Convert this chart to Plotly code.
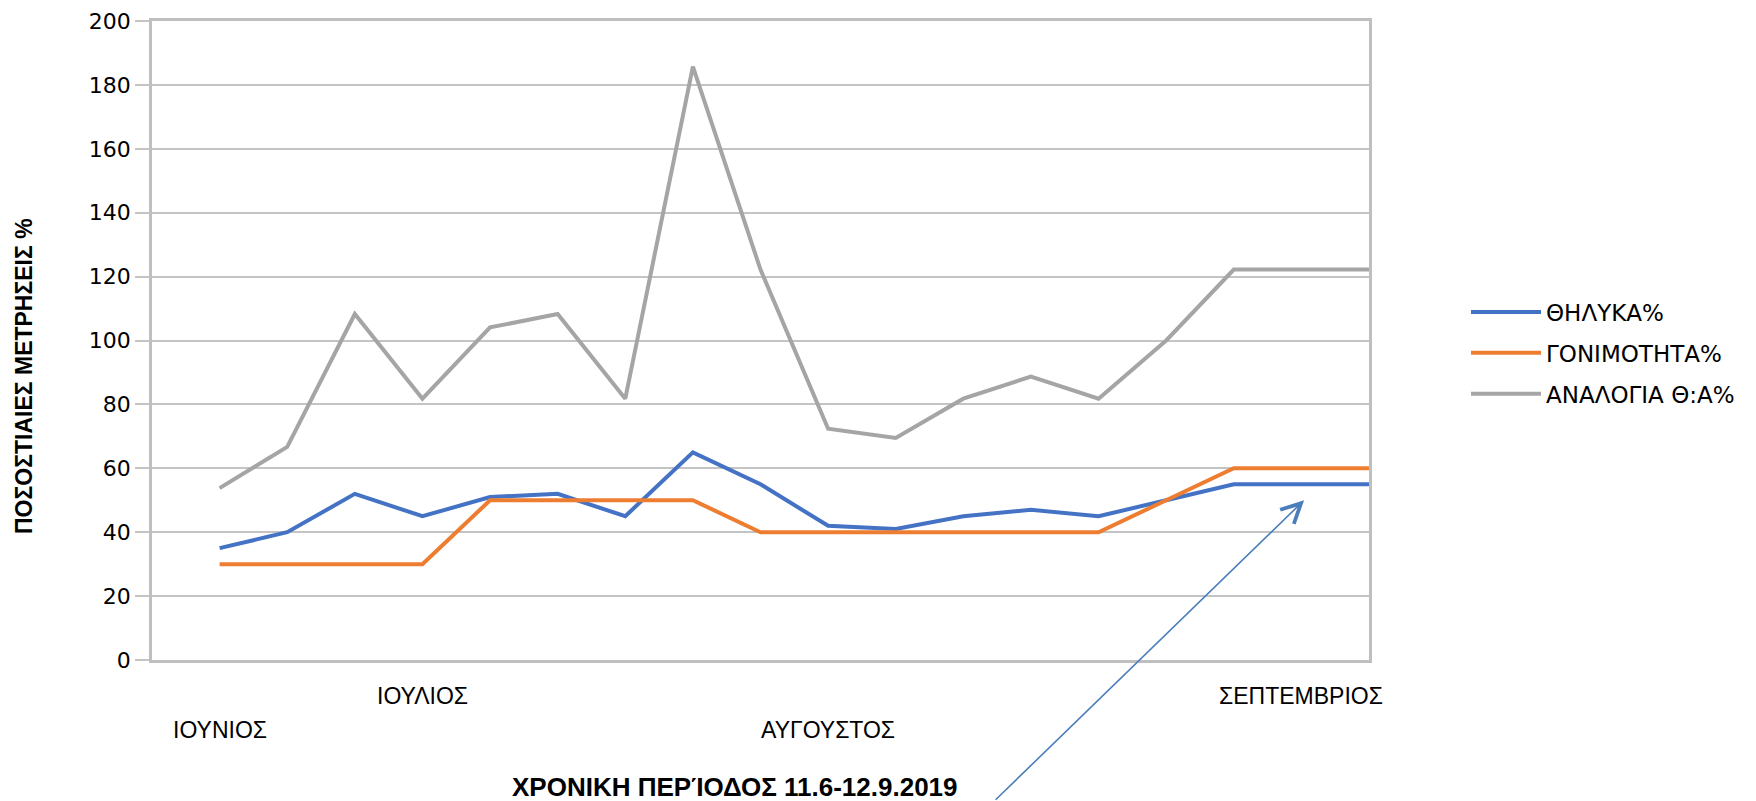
import plotly.graph_objects as go

# Category index positions (measurements 11.6 – 12.9.2019)
points = list(range(18))

thilyka = [35, 40, 52, 45, 51, 52, 45, 65, 55, 42, 41, 45, 47, 45, 50, 55, 55, 55]
gonimotita = [30, 30, 30, 30, 50, 50, 50, 50, 40, 40, 40, 40, 40, 40, 50, 60, 60, 60]
analogia = [53.8, 66.7, 108.3, 81.8, 104.1, 108.3, 81.8, 185.7, 122.2, 72.4, 69.5,
            81.8, 88.7, 81.8, 100, 122.2, 122.2, 122.2]

series_names = ["ΘΗΛΥΚΑ%", "ΓΟΝΙΜΟΤΗΤΑ%", "ΑΝΑΛΟΓΙΑ Θ:Α%"]
series_colors = ["#4472C4", "#ED7D31", "#A5A5A5"]

month_positions = [0, 3, 9, 16]
month_labels = ["ΙΟΥΝΙΟΣ", "ΙΟΥΛΙΟΣ", "ΑΥΓΟΥΣΤΟΣ", "ΣΕΠΤΕΜΒΡΙΟΣ"]
month_rows = [1, 0, 1, 0]  # 0 = upper row, 1 = lower row (staggered labels)

y_ticks = [0, 20, 40, 60, 80, 100, 120, 140, 160, 180, 200]

fig = go.Figure()
for name, vals, col in zip(series_names, [thilyka, gonimotita, analogia], series_colors):
    fig.add_trace(go.Scatter(
        x=points, y=vals, mode="lines", name=name, legendgroup=name,
        line=dict(color=col, width=4),
    ))

# page body has an 8px margin, so figure coordinates = reference coordinates - 8
W, H = 1756, 801
PL, PR, PT, PB = 144, 1361, 13, 652          # plot area in figure pixels
L, R, T, B = PL, W - PR, PT, H - PB
PW, PH = PR - PL, PB - PT


def px_x(x):
    return (x - PL) / PW


def px_y(y):
    return (PB - y) / PH


fig.update_layout(
    width=W, height=H,
    margin=dict(l=L, r=R, t=T, b=B, autoexpand=False),
    paper_bgcolor="white", plot_bgcolor="white",
    font=dict(family="DejaVu Sans", size=22, color="#000000"),
    showlegend=True,
    legend=dict(
        x=px_x(1458), xanchor="left", y=px_y(345), yanchor="middle",
        font=dict(family="DejaVu Sans", size=23, color="#000000"),
        itemwidth=70, tracegroupgap=8, bgcolor="rgba(0,0,0,0)",
    ),
    xaxis=dict(
        range=[-1, 17], showticklabels=False, automargin=False,
        showgrid=False, zeroline=False, ticks="",
        showline=True, linecolor="#BFBFBF", linewidth=2.5, mirror=True,
    ),
    yaxis=dict(
        range=[0, 200], tickmode="array", tickvals=y_ticks, automargin=False,
        tickfont=dict(family="DejaVu Sans", size=22, color="#000000"),
        ticklabeloverflow="allow",
        showgrid=True, gridcolor="#C4C4C4", gridwidth=1.5, zeroline=False,
        ticks="outside", ticklen=14, tickcolor="#C4C4C4", tickwidth=1.5,
        showline=True, linecolor="#BFBFBF", linewidth=2.5, mirror=True,
    ),
)

# Staggered month category labels placed on the x scale
row_y = [px_y(688), px_y(722)]
for pos, lab, row in zip(month_positions, month_labels, month_rows):
    fig.add_annotation(
        text=lab, x=pos, xref="x", y=row_y[row], yref="paper",
        xanchor="center", yanchor="middle", showarrow=False,
        font=dict(family="Liberation Sans, Arial", size=23, color="#000000"),
    )

# Axis titles
fig.add_annotation(
    text="<b>ΧΡΟΝΙΚΗ ΠΕΡΊΟΔΟΣ 11.6-12.9.2019</b>",
    xref="paper", yref="paper", x=px_x(727), y=px_y(779),
    xanchor="center", yanchor="middle", showarrow=False,
    font=dict(family="Liberation Sans, Arial", size=26, color="#000000"),
)
fig.add_annotation(
    text="<b>ΠΟΣΟΣΤΙΑΙΕΣ ΜΕΤΡΗΣΕΙΣ %</b>",
    xref="paper", yref="paper", x=px_x(16), y=px_y(368),
    xanchor="center", yanchor="middle", showarrow=False, textangle=-90,
    font=dict(family="Liberation Sans, Arial", size=23, color="#000000"),
)

# Arrow pointing at September values
fig.add_annotation(
    x=16.04, y=50, xref="x", yref="y", text="", showarrow=True,
    ax=-310, ay=301, axref="pixel", ayref="pixel",
    arrowhead=5, arrowsize=2.4, arrowwidth=1.6, arrowcolor="#4A7EBB",
)

fig.write_html("out.html")
